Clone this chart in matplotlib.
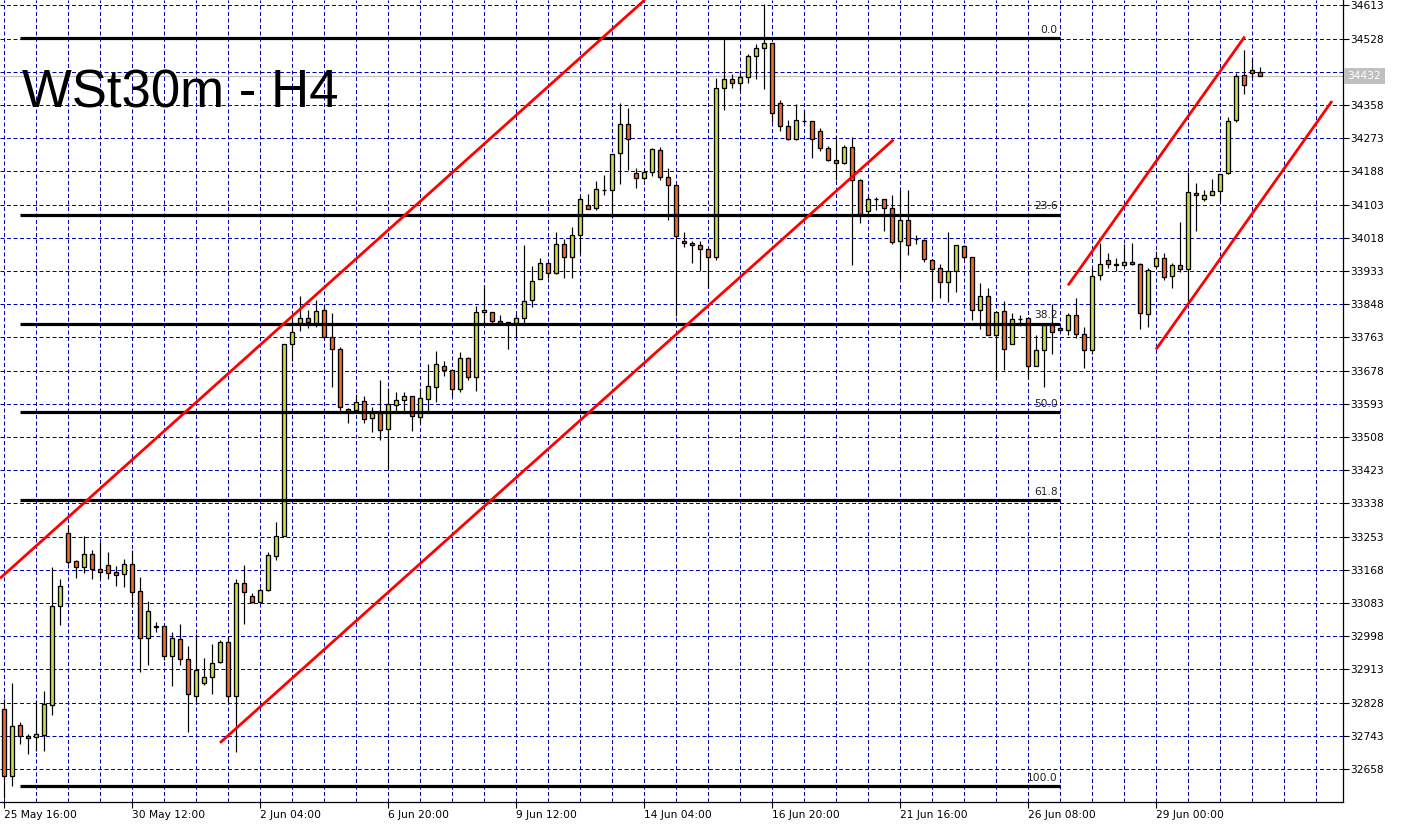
import matplotlib.pyplot as plt
import matplotlib.transforms as mtransforms
import numpy as np

# WSt30m H4 candles, one entry per bar (bar 0 = 25 May 16:00)
opens = [32811, 32641, 32770, 32742, 32739, 32746, 32821, 33075, 33261, 33190,
         33174, 33208, 33169, 33179, 33162, 33156, 33182, 33113, 32993, 33022,
         33023, 32948, 32991, 32939, 32846, 32879, 32893, 32931, 32982, 32844,
         33133, 33100, 33086, 33115, 33204, 33255, 33745, 33800, 33812, 33799,
         33832, 33763, 33732, 33580, 33576, 33599, 33556, 33569, 33528, 33589,
         33602, 33612, 33558, 33604, 33635, 33689, 33679, 33630, 33709, 33661,
         33827, 33827, 33804, 33802, 33799, 33812, 33858, 33912, 33953, 33927,
         34001, 33968, 34024, 34103, 34093, 34139, 34139, 34234, 34308, 34183,
         34170, 34186, 34242, 34173, 34152, 34009, 34004, 33999, 33988, 33968,
         34401, 34424, 34413, 34429, 34482, 34505, 34516, 34362, 34303, 34270,
         34316, 34316, 34290, 34247, 34216, 34209, 34250, 34165, 34086, 34116,
         34116, 34093, 34009, 34063, 34014, 34011, 33960, 33940, 33904, 33932,
         33996, 33968, 33832, 33868, 33768, 33830, 33745, 33809, 33812, 33689,
         33730, 33794, 33786, 33781, 33819, 33771, 33730, 33922, 33960, 33950,
         33947, 33955, 33950, 33822, 33945, 33965, 33919, 33947, 33937, 34132,
         34116, 34127, 34137, 34183, 34319, 34434, 34447, 34442]
highs = [32836, 32878, 32778, 32748, 32834, 32857, 33175, 33144, 33283, 33192,
         33254, 33218, 33238, 33213, 33177, 33195, 33218, 33150, 33088, 33035,
         33024, 33008, 33029, 32972, 33003, 32942, 32978, 32988, 32998, 33144,
         33180, 33108, 33121, 33214, 33290, 33746, 33814, 33869, 33832, 33858,
         33845, 33825, 33738, 33583, 33617, 33612, 33584, 33654, 33633, 33622,
         33622, 33612, 33633, 33694, 33727, 33702, 33679, 33725, 33712, 33843,
         33896, 33827, 33819, 33802, 33822, 33999, 33945, 33965, 33953, 34032,
         34014, 34045, 34127, 34129, 34162, 34178, 34232, 34362, 34349, 34196,
         34193, 34247, 34250, 34196, 34152, 34032, 34009, 34009, 33988, 34426,
         34526, 34436, 34444, 34488, 34513, 34616, 34516, 34370, 34319, 34360,
         34344, 34316, 34298, 34252, 34278, 34255, 34275, 34168, 34124, 34122,
         34116, 34127, 34139, 34140, 34024, 34014, 33963, 33950, 34032, 33999,
         33999, 33968, 33901, 33889, 33827, 33855, 33825, 33819, 33814, 33768,
         33794, 33848, 33789, 33825, 33863, 33789, 33940, 34004, 33978, 33965,
         34001, 34004, 33953, 33940, 33983, 33978, 33953, 34058, 34186, 34157,
         34139, 34168, 34180, 34326, 34439, 34498, 34477, 34454]
lows = [32583, 32615, 32721, 32696, 32705, 32705, 32797, 33027, 33182, 33148,
        33161, 33145, 33145, 33145, 33127, 33125, 33073, 32907, 32924, 33009,
        32937, 32871, 32924, 32753, 32830, 32874, 32849, 32929, 32828, 32702,
        33028, 33082, 33082, 33113, 33193, 33254, 33703, 33780, 33786, 33790,
        33763, 33637, 33575, 33545, 33576, 33545, 33521, 33501, 33427, 33574,
        33574, 33524, 33543, 33574, 33597, 33665, 33612, 33622, 33655, 33626,
        33800, 33796, 33796, 33732, 33763, 33799, 33840, 33912, 33914, 33924,
        33914, 33914, 33978, 34091, 34088, 34127, 34068, 34155, 34191, 34145,
        34165, 34177, 34165, 34063, 33818, 33994, 33953, 33932, 33889, 33960,
        34344, 34401, 34395, 34413, 34424, 34398, 34314, 34290, 34267, 34267,
        34311, 34221, 34239, 34214, 34165, 34206, 33949, 34055, 34078, 34088,
        34035, 34001, 33913, 33973, 34001, 33955, 33858, 33863, 33853, 33878,
        33963, 33807, 33784, 33768, 33653, 33679, 33745, 33791, 33656, 33689,
        33635, 33720, 33779, 33768, 33761, 33684, 33720, 33909, 33940, 33932,
        33945, 33947, 33784, 33789, 33940, 33909, 33889, 33930, 33848, 34035,
        34111, 34127, 34113, 34180, 34314, 34385, 34426, 34431]
closes = [32641, 32767, 32742, 32737, 32747, 32824, 33075, 33126, 33189, 33174,
          33208, 33169, 33162, 33159, 33154, 33182, 33110, 32993, 33062, 33022,
          32948, 32993, 32939, 32849, 32911, 32894, 32929, 32982, 32844, 33133,
          33110, 33086, 33115, 33205, 33255, 33745, 33776, 33812, 33802, 33830,
          33763, 33732, 33585, 33575, 33597, 33553, 33569, 33525, 33592, 33602,
          33612, 33561, 33607, 33638, 33694, 33679, 33630, 33709, 33661, 33827,
          33832, 33804, 33799, 33799, 33812, 33855, 33906, 33953, 33927, 34001,
          33968, 34024, 34116, 34091, 34142, 34139, 34232, 34308, 34270, 34170,
          34186, 34244, 34173, 34152, 34022, 34004, 33999, 33988, 33968, 34401,
          34424, 34413, 34429, 34482, 34505, 34516, 34337, 34303, 34270, 34319,
          34316, 34270, 34247, 34216, 34209, 34250, 34165, 34078, 34116, 34116,
          34093, 34006, 34063, 33999, 34014, 33963, 33937, 33904, 33932, 33999,
          33968, 33832, 33868, 33768, 33827, 33732, 33809, 33809, 33689, 33730,
          33794, 33776, 33781, 33819, 33771, 33730, 33919, 33950, 33950, 33947,
          33955, 33950, 33825, 33935, 33965, 33917, 33947, 33937, 34134, 34127,
          34127, 34137, 34180, 34316, 34431, 34408, 34439, 34432]

date_bars = [0, 16, 32, 48, 64, 80, 96, 112, 128, 144]
date_labels = ["25 May 16:00", "30 May 12:00", "2 Jun 04:00", "6 Jun 20:00",
               "9 Jun 12:00", "14 Jun 04:00", "16 Jun 20:00", "21 Jun 16:00",
               "26 Jun 08:00", "29 Jun 00:00"]

price_ticks = [34613, 34528, 34443, 34358, 34273, 34188, 34103, 34018, 33933,
               33848, 33763, 33678, 33593, 33508, 33423, 33338, 33253, 33168,
               33083, 32998, 32913, 32828, 32743, 32658]

# fibo retracement (0.0 at top, 100.0 at bottom)
fib_top = 34529
fib_bottom = 32614
fib_levels = [0.0, 23.6, 38.2, 50.0, 61.8, 100.0]
fib_start, fib_end = 2, 132

# trend channel lines: (bar, price) start -> end
channel_lines = [
    ((-0.5, 33146), (80.1, 34627)),
    ((27.0, 32725), (111.2, 34269)),
    ((133.0, 33896), (155.1, 34533)),
    ((144.0, 33732), (166.0, 34368)),
]

last_price = 34432

BULL = "#CCDA3E"
BEAR = "#EE6A2C"
GRID = "#0000B0"
PX = 0.72  # one pixel in points

fig = plt.figure(figsize=(14.08, 8.24), dpi=100)
ax = fig.add_axes([0, 1 - 802 / 824, 1343 / 1408, 802 / 824])
ax.set_xlim(-0.5, 167.375)
ax.set_ylim(32573.5, 34626.6)

# grid
for p in price_ticks:
    ax.axhline(p, color=GRID, lw=PX, ls=(0, (4, 2.5)), zorder=0)
for b in np.arange(0, 168, 4):
    ax.axvline(b, color=GRID, lw=PX, ls=(0, (4, 2.5)), zorder=0)

# last price line
ax.axhline(last_price, color="#C0C0C0", lw=PX * 1.2, zorder=1)

# candles
o = np.array(opens)
h = np.array(highs)
l = np.array(lows)
c = np.array(closes)
x = np.arange(len(o))
up = c > o
ax.vlines(x, l, h, color="black", lw=PX * 1.2, zorder=2)
ax.bar(x, np.maximum(np.abs(c - o), 1.5), bottom=np.minimum(o, c), width=0.55,
       color=np.where(up, BULL, BEAR), edgecolor="black", linewidth=PX * 1.3,
       zorder=3)

# fibo levels
for lev in fib_levels:
    p = fib_top - (fib_top - fib_bottom) * lev / 100
    ax.hlines(p, fib_start, fib_end, color="black", lw=2.3, zorder=4)
    ax.annotate(f"{lev:.1f}", (fib_end - 0.3, p), xytext=(0, 2.5),
                textcoords="offset points", ha="right", va="bottom",
                fontsize=7.7, color="#202020", zorder=4)

# channel lines
for (x0, y0), (x1, y1) in channel_lines:
    ax.plot([x0, x1], [y0, y1], color="red", lw=2.0, zorder=5,
            solid_capstyle="butt")

# axes
for side in ("top", "left"):
    ax.spines[side].set_visible(False)
for side in ("right", "bottom"):
    ax.spines[side].set_linewidth(0.9)
ax.yaxis.tick_right()
ax.set_yticks(price_ticks)
ax.set_yticklabels(["" if p == 34443 else str(p) for p in price_ticks])
ax.set_xticks(date_bars)
ax.set_xticklabels(date_labels, ha="left")
ax.tick_params(axis="y", direction="out", length=4, width=0.8, pad=1,
               labelsize=7.7)
ax.tick_params(axis="x", direction="out", length=4, width=0.8, pad=2,
               labelsize=7.7)

# current price box
trans = mtransforms.blended_transform_factory(ax.transAxes, ax.transData)
ax.text(1.0035, last_price, str(last_price), transform=trans, ha="left",
        va="center", fontsize=7.7, color="white", clip_on=False,
        bbox=dict(fc="#C0C0C0", ec="none", pad=2.5))

fig.text(22 / 1408, 1 - 107 / 824, "WSt30m - H4", fontsize=38,
         family="Liberation Sans", va="baseline")

fig.savefig("out.png", dpi=100)
